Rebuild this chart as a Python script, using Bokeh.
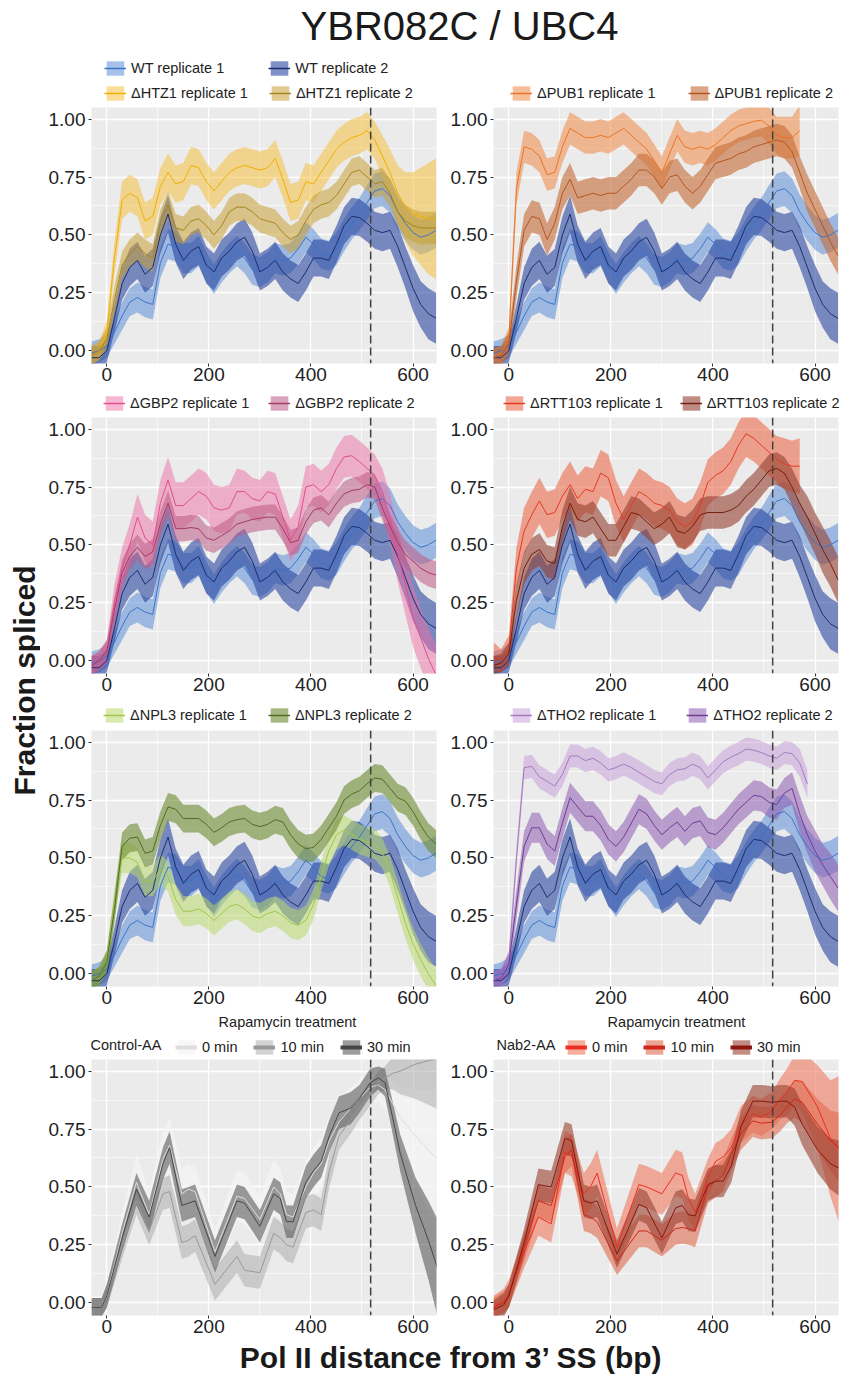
import numpy as np
from bokeh.plotting import figure
from bokeh.layouts import column, row
from bokeh.models import (Range1d, FixedTicker, NumeralTickFormatter, Legend,
                          LegendItem, Span, Label)
from bokeh.embed import file_html
from bokeh.resources import INLINE

# ------------------------------------------------------------------ data
X = [-30, -15, 0, 15, 30, 45, 60, 75, 90, 105,
     120, 135, 150, 165, 180, 195, 210, 225, 240, 255,
     270, 285, 300, 315, 330, 345, 360, 375, 390, 405,
     420, 435, 450, 465, 480, 495, 510, 525, 540, 555,
     570, 585, 600, 615, 630, 645]

WT_REP1 = [-0.01, 0.00, 0.02, 0.08, 0.15, 0.21, 0.23, 0.21, 0.20, 0.38,
           0.46, 0.45, 0.40, 0.40, 0.43, 0.36, 0.31, 0.36, 0.40, 0.43,
           0.40, 0.35, 0.34, 0.36, 0.40, 0.39, 0.40, 0.44, 0.49, 0.46,
           0.42, 0.41, 0.44, 0.50, 0.55, 0.59, 0.64, 0.69, 0.70, 0.67,
           0.60, 0.55, 0.51, 0.49, 0.50, 0.52]
WT_REP1_HW = [0.05, 0.05, 0.05, 0.05, 0.06, 0.06, 0.065, 0.065, 0.065, 0.065,
              0.065, 0.065, 0.065, 0.065, 0.065, 0.065, 0.065, 0.065, 0.065, 0.065,
              0.065, 0.065, 0.065, 0.065, 0.065, 0.065, 0.065, 0.065, 0.065, 0.065,
              0.065, 0.065, 0.07, 0.07, 0.07, 0.07, 0.075, 0.075, 0.075, 0.075,
              0.075, 0.075, 0.075, 0.075, 0.075, 0.075]

WT_REP2 = [-0.03, -0.03, 0.00, 0.14, 0.29, 0.36, 0.39, 0.33, 0.36, 0.50,
           0.59, 0.46, 0.39, 0.43, 0.45, 0.37, 0.34, 0.40, 0.43, 0.47,
           0.49, 0.43, 0.34, 0.36, 0.39, 0.34, 0.31, 0.29, 0.34, 0.40,
           0.40, 0.39, 0.46, 0.54, 0.58, 0.575, 0.55, 0.52, 0.51, 0.52,
           0.45, 0.36, 0.27, 0.20, 0.16, 0.14]
WT_REP2_HW = [0.05, 0.05, 0.05, 0.06, 0.07, 0.08, 0.08, 0.08, 0.08, 0.08,
              0.08, 0.08, 0.08, 0.08, 0.08, 0.08, 0.08, 0.08, 0.08, 0.08,
              0.08, 0.08, 0.08, 0.08, 0.08, 0.08, 0.08, 0.08, 0.08, 0.08,
              0.08, 0.08, 0.08, 0.08, 0.08, 0.08, 0.08, 0.08, 0.08, 0.08,
              0.09, 0.09, 0.10, 0.10, 0.11, 0.11]

HTZ1_REP1 = [-0.02, 0.00, 0.08, 0.40, 0.65, 0.68, 0.66, 0.56, 0.58, 0.71,
             0.77, 0.72, 0.73, 0.80, 0.79, 0.73, 0.69, 0.73, 0.77, 0.79,
             0.80, 0.79, 0.78, 0.79, 0.83, 0.74, 0.64, 0.65, 0.73, 0.72,
             0.77, 0.82, 0.87, 0.90, 0.92, 0.93, 0.95, 0.91, 0.84, 0.77,
             0.68, 0.62, 0.59, 0.58, 0.57, 0.57]
HTZ1_REP1_HW = [0.04, 0.04, 0.05, 0.07, 0.08, 0.08, 0.08, 0.08, 0.08, 0.08,
                0.08, 0.08, 0.08, 0.08, 0.08, 0.08, 0.08, 0.08, 0.08, 0.08,
                0.08, 0.08, 0.08, 0.08, 0.08, 0.08, 0.08, 0.08, 0.08, 0.08,
                0.08, 0.08, 0.08, 0.08, 0.08, 0.08, 0.08, 0.08, 0.09, 0.10,
                0.12, 0.15, 0.18, 0.21, 0.24, 0.26]

HTZ1_REP2 = [-0.02, 0.00, 0.05, 0.22, 0.37, 0.42, 0.45, 0.42, 0.40, 0.55,
             0.63, 0.53, 0.52, 0.56, 0.57, 0.54, 0.50, 0.54, 0.60, 0.62,
             0.62, 0.60, 0.57, 0.56, 0.55, 0.51, 0.48, 0.50, 0.56, 0.61,
             0.63, 0.64, 0.67, 0.72, 0.77, 0.78, 0.75, 0.72, 0.73, 0.68,
             0.60, 0.56, 0.54, 0.53, 0.53, 0.53]
HTZ1_REP2_HW = [0.04, 0.04, 0.05, 0.06, 0.06, 0.06, 0.06, 0.06, 0.06, 0.06,
                0.06, 0.06, 0.06, 0.06, 0.06, 0.06, 0.06, 0.06, 0.06, 0.06,
                0.06, 0.06, 0.06, 0.06, 0.06, 0.06, 0.06, 0.06, 0.06, 0.06,
                0.06, 0.06, 0.06, 0.06, 0.06, 0.06, 0.06, 0.06, 0.06, 0.06,
                0.06, 0.07, 0.07, 0.07, 0.07, 0.07]

PUB1_REP1 = [-0.03, -0.02, 0.05, 0.70, 0.88, 0.87, 0.84, 0.76, 0.77, 0.88,
             0.96, 0.94, 0.92, 0.92, 0.93, 0.92, 0.94, 0.96, 0.93, 0.90,
             0.87, 0.82, 0.77, 0.85, 0.93, 0.88, 0.87, 0.88, 0.87, 0.89,
             0.92, 0.95, 0.97, 0.98, 0.99, 0.995, 0.97, 0.93, 0.92, 0.92,
             0.95, None, None, None, None, None]
PUB1_REP1_HW = [0.04, 0.04, 0.05, 0.07, 0.07, 0.07, 0.07, 0.07, 0.07, 0.07,
                0.07, 0.07, 0.07, 0.07, 0.07, 0.07, 0.07, 0.07, 0.07, 0.07,
                0.07, 0.07, 0.07, 0.07, 0.07, 0.07, 0.07, 0.07, 0.07, 0.07,
                0.07, 0.07, 0.07, 0.07, 0.07, 0.07, 0.08, 0.08, 0.09, 0.09,
                0.11, None, None, None, None, None]

PUB1_REP2 = [-0.03, -0.02, 0.03, 0.30, 0.52, 0.58, 0.57, 0.48, 0.55, 0.68,
             0.74, 0.66, 0.67, 0.68, 0.67, 0.68, 0.68, 0.71, 0.74, 0.78,
             0.78, 0.75, 0.70, 0.75, 0.76, 0.71, 0.68, 0.71, 0.76, 0.81,
             0.82, 0.83, 0.85, 0.86, 0.88, 0.89, 0.90, 0.91, 0.90, 0.86,
             0.77, 0.68, 0.61, 0.54, 0.47, 0.41]
PUB1_REP2_HW = [0.04, 0.04, 0.05, 0.07, 0.07, 0.07, 0.07, 0.07, 0.07, 0.07,
                0.07, 0.07, 0.07, 0.07, 0.07, 0.07, 0.07, 0.07, 0.07, 0.07,
                0.07, 0.07, 0.07, 0.07, 0.07, 0.07, 0.07, 0.07, 0.07, 0.07,
                0.07, 0.07, 0.07, 0.07, 0.07, 0.07, 0.07, 0.07, 0.07, 0.07,
                0.07, 0.08, 0.08, 0.08, 0.08, 0.08]

GBP2_REP1 = [-0.02, 0.00, 0.04, 0.25, 0.40, 0.50, 0.62, 0.53, 0.50, 0.68,
             0.78, 0.67, 0.67, 0.70, 0.73, 0.71, 0.66, 0.65, 0.66, 0.73,
             0.73, 0.70, 0.69, 0.73, 0.72, 0.62, 0.52, 0.58, 0.75, 0.76,
             0.73, 0.76, 0.83, 0.88, 0.885, 0.86, 0.83, 0.80, 0.73, 0.61,
             0.46, 0.33, 0.19, 0.10, 0.01, -0.06]
GBP2_REP1_HW = [0.04, 0.04, 0.05, 0.08, 0.09, 0.09, 0.10, 0.10, 0.10, 0.10,
                0.10, 0.10, 0.10, 0.10, 0.10, 0.10, 0.10, 0.10, 0.10, 0.10,
                0.09, 0.09, 0.09, 0.09, 0.09, 0.09, 0.09, 0.09, 0.09, 0.09,
                0.09, 0.09, 0.09, 0.09, 0.09, 0.09, 0.09, 0.09, 0.10, 0.11,
                0.12, 0.13, 0.13, 0.13, 0.13, 0.13]

GBP2_REP2 = [-0.02, 0.00, 0.04, 0.22, 0.38, 0.45, 0.49, 0.45, 0.47, 0.59,
             0.68, 0.57, 0.57, 0.575, 0.57, 0.53, 0.52, 0.54, 0.56, 0.59,
             0.60, 0.61, 0.615, 0.62, 0.62, 0.57, 0.51, 0.52, 0.60, 0.65,
             0.66, 0.63, 0.68, 0.72, 0.735, 0.74, 0.76, 0.75, 0.66, 0.58,
             0.51, 0.46, 0.43, 0.40, 0.38, 0.37]
GBP2_REP2_HW = [0.04, 0.04, 0.05, 0.055, 0.055, 0.055, 0.055, 0.055, 0.055, 0.055,
                0.055, 0.055, 0.055, 0.055, 0.055, 0.055, 0.055, 0.055, 0.055, 0.055,
                0.055, 0.055, 0.055, 0.055, 0.055, 0.055, 0.055, 0.055, 0.055, 0.055,
                0.055, 0.055, 0.055, 0.055, 0.055, 0.055, 0.055, 0.055, 0.055, 0.055,
                0.06, 0.06, 0.06, 0.06, 0.06, 0.06]

RTT103_REP1 = [0.02, 0.00, 0.05, 0.40, 0.56, 0.63, 0.69, 0.63, 0.64, 0.71,
               0.76, 0.70, 0.74, 0.73, 0.81, 0.79, 0.68, 0.61, 0.67, 0.73,
               0.71, 0.68, 0.67, 0.65, 0.60, 0.58, 0.60, 0.67, 0.77, 0.80,
               0.82, 0.86, 0.93, 0.98, 0.96, 0.93, 0.90, 0.87, 0.85, 0.84,
               0.84, None, None, None, None, None]
RTT103_REP1_HW = [0.06, 0.05, 0.06, 0.09, 0.10, 0.10, 0.10, 0.10, 0.10, 0.10,
                  0.10, 0.10, 0.10, 0.10, 0.10, 0.10, 0.10, 0.10, 0.10, 0.10,
                  0.10, 0.10, 0.10, 0.10, 0.10, 0.10, 0.10, 0.10, 0.10, 0.10,
                  0.10, 0.10, 0.10, 0.10, 0.10, 0.10, 0.10, 0.10, 0.11, 0.11,
                  0.12, None, None, None, None, None]

RTT103_REP2 = [-0.02, -0.01, 0.03, 0.26, 0.40, 0.46, 0.48, 0.43, 0.42, 0.58,
               0.68, 0.61, 0.60, 0.62, 0.57, 0.52, 0.52, 0.58, 0.64, 0.63,
               0.60, 0.57, 0.59, 0.62, 0.56, 0.55, 0.58, 0.63, 0.64, 0.64,
               0.64, 0.65, 0.67, 0.71, 0.74, 0.78, 0.82, 0.83, 0.81, 0.75,
               0.68, 0.62, 0.55, 0.48, 0.42, 0.35]
RTT103_REP2_HW = [0.04, 0.04, 0.05, 0.07, 0.07, 0.07, 0.07, 0.07, 0.07, 0.07,
                  0.07, 0.07, 0.07, 0.07, 0.07, 0.07, 0.07, 0.07, 0.07, 0.07,
                  0.07, 0.07, 0.07, 0.07, 0.07, 0.07, 0.07, 0.07, 0.07, 0.07,
                  0.07, 0.07, 0.07, 0.07, 0.07, 0.07, 0.07, 0.07, 0.07, 0.08,
                  0.08, 0.09, 0.09, 0.10, 0.10, 0.10]

NPL3_REP1 = [-0.03, -0.01, 0.05, 0.30, 0.50, 0.50, 0.48, 0.40, 0.40, 0.45,
             0.42, 0.32, 0.27, 0.27, 0.28, 0.26, 0.23, 0.26, 0.29, 0.30,
             0.28, 0.25, 0.24, 0.26, 0.27, 0.25, 0.22, 0.21, 0.23, 0.30,
             0.42, 0.53, 0.60, 0.62, 0.60, 0.58, 0.57, 0.56, 0.52, 0.44,
             0.33, 0.22, 0.13, 0.06, 0.00, -0.05]
NPL3_REP1_HW = [0.04, 0.04, 0.05, 0.065, 0.065, 0.065, 0.065, 0.065, 0.065, 0.065,
                0.065, 0.065, 0.065, 0.065, 0.065, 0.065, 0.065, 0.065, 0.065, 0.065,
                0.065, 0.065, 0.065, 0.065, 0.065, 0.065, 0.065, 0.065, 0.065, 0.065,
                0.065, 0.065, 0.065, 0.065, 0.065, 0.065, 0.065, 0.065, 0.065, 0.065,
                0.07, 0.07, 0.07, 0.07, 0.07, 0.07]

NPL3_REP2 = [-0.03, -0.01, 0.05, 0.28, 0.55, 0.585, 0.59, 0.52, 0.53, 0.64,
             0.72, 0.71, 0.67, 0.67, 0.67, 0.645, 0.61, 0.63, 0.655, 0.665,
             0.67, 0.645, 0.635, 0.645, 0.665, 0.655, 0.60, 0.56, 0.54, 0.545,
             0.58, 0.63, 0.68, 0.75, 0.775, 0.79, 0.82, 0.845, 0.84, 0.80,
             0.76, 0.745, 0.70, 0.64, 0.59, 0.56]
NPL3_REP2_HW = [0.04, 0.04, 0.05, 0.06, 0.06, 0.06, 0.06, 0.06, 0.06, 0.06,
                0.06, 0.06, 0.06, 0.06, 0.06, 0.06, 0.06, 0.06, 0.06, 0.06,
                0.06, 0.06, 0.06, 0.06, 0.06, 0.06, 0.06, 0.06, 0.06, 0.06,
                0.06, 0.06, 0.06, 0.06, 0.06, 0.06, 0.06, 0.06, 0.06, 0.06,
                0.06, 0.06, 0.06, 0.06, 0.06, 0.06]

THO2_REP1 = [-0.03, -0.02, 0.05, 0.50, 0.89, 0.895, 0.85, 0.83, 0.81, 0.86,
             0.94, 0.94, 0.92, 0.93, 0.91, 0.88, 0.89, 0.905, 0.89, 0.87,
             0.85, 0.83, 0.82, 0.86, 0.88, 0.885, 0.905, 0.89, 0.845, 0.88,
             0.915, 0.935, 0.95, 0.97, 0.965, 0.955, 0.94, 0.93, 0.955, 0.95,
             0.91, 0.82, None, None, None, None]
THO2_REP1_HW = [0.04, 0.04, 0.05, 0.05, 0.05, 0.05, 0.05, 0.05, 0.05, 0.05,
                0.05, 0.05, 0.05, 0.05, 0.05, 0.05, 0.05, 0.05, 0.05, 0.05,
                0.05, 0.05, 0.05, 0.05, 0.05, 0.05, 0.05, 0.05, 0.05, 0.05,
                0.05, 0.05, 0.05, 0.05, 0.05, 0.05, 0.05, 0.05, 0.05, 0.05,
                0.06, 0.06, None, None, None, None]

THO2_REP2 = [-0.03, -0.02, 0.04, 0.30, 0.55, 0.63, 0.63, 0.56, 0.53, 0.65,
             0.76, 0.72, 0.68, 0.68, 0.64, 0.58, 0.55, 0.59, 0.65, 0.71,
             0.69, 0.64, 0.60, 0.63, 0.655, 0.615, 0.65, 0.66, 0.61, 0.60,
             0.63, 0.67, 0.71, 0.74, 0.77, 0.765, 0.74, 0.73, 0.78, 0.80,
             0.69, 0.60, 0.53, 0.47, 0.42, 0.37]
THO2_REP2_HW = [0.04, 0.04, 0.05, 0.065, 0.065, 0.065, 0.065, 0.065, 0.065, 0.065,
                0.065, 0.065, 0.065, 0.065, 0.065, 0.065, 0.065, 0.065, 0.065, 0.065,
                0.065, 0.065, 0.065, 0.065, 0.065, 0.065, 0.065, 0.065, 0.065, 0.065,
                0.065, 0.065, 0.065, 0.065, 0.065, 0.065, 0.065, 0.065, 0.065, 0.07,
                0.08, 0.08, 0.09, 0.09, 0.10, 0.10]

# anchor-away (rapamycin) experiments
X_AA = [-30, -10, 0, 30, 58, 83, 110, 123, 147, 160,
        173, 212, 255, 270, 300, 327, 340, 352, 365, 390,
        405, 420, 436, 455, 478, 495, 516, 532, 545, 560,
        575, 605, 630, 648]

CTRL_0 = [-0.02, -0.02, 0.03, 0.30, 0.52, 0.38, 0.62, 0.68, 0.47, 0.49,
          0.48, 0.22, 0.46, 0.45, 0.36, 0.50, 0.47, 0.38, 0.37, 0.50,
          0.56, 0.60, 0.70, 0.78, 0.84, 0.88, 0.93, 0.94, 0.92, 0.86,
          0.80, 0.72, 0.66, 0.62]
CTRL_0_HW = [0.05, 0.05, 0.06, 0.09, 0.12, 0.10, 0.12, 0.12, 0.11, 0.11,
             0.11, 0.10, 0.11, 0.11, 0.10, 0.12, 0.11, 0.10, 0.10, 0.11,
             0.11, 0.11, 0.11, 0.10, 0.09, 0.08, 0.07, 0.07, 0.08, 0.10,
             0.13, 0.20, 0.26, 0.30]
CTRL_10 = [-0.02, -0.02, 0.03, 0.25, 0.44, 0.31, 0.47, 0.48, 0.26, 0.27,
           0.29, 0.08, 0.20, 0.14, 0.13, 0.30, 0.28, 0.25, 0.24, 0.39,
           0.40, 0.38, 0.57, 0.72, 0.79, 0.84, 0.90, 0.95, 0.97, 0.99,
           1.00, 1.03, 1.045, 1.055]
CTRL_10_HW = [0.04, 0.04, 0.05, 0.06, 0.06, 0.06, 0.07, 0.07, 0.07, 0.07,
              0.07, 0.07, 0.07, 0.07, 0.07, 0.07, 0.07, 0.07, 0.07, 0.07,
              0.07, 0.07, 0.07, 0.06, 0.06, 0.05, 0.05, 0.05, 0.05, 0.07,
              0.10, 0.15, 0.19, 0.22]
CTRL_30 = [-0.02, -0.02, 0.03, 0.28, 0.49, 0.37, 0.60, 0.67, 0.42, 0.43,
           0.44, 0.20, 0.44, 0.43, 0.33, 0.47, 0.45, 0.35, 0.35, 0.52,
           0.57, 0.61, 0.72, 0.82, 0.84, 0.88, 0.95, 0.97, 0.95, 0.80,
           0.645, 0.42, 0.27, 0.15]
CTRL_30_HW = [0.04, 0.04, 0.05, 0.06, 0.07, 0.07, 0.07, 0.07, 0.07, 0.07,
              0.07, 0.07, 0.07, 0.07, 0.07, 0.07, 0.07, 0.07, 0.07, 0.07,
              0.07, 0.07, 0.07, 0.07, 0.07, 0.06, 0.06, 0.05, 0.06, 0.07,
              0.08, 0.12, 0.17, 0.21]

NAB2_0 = [-0.02, 0.01, 0.04, 0.22, 0.37, 0.34, 0.65, 0.635, 0.47, 0.50,
          0.56, 0.24, 0.51, 0.50, 0.47, 0.56, 0.55, 0.45, 0.39, 0.54,
          0.61, 0.63, 0.67, 0.77, 0.815, 0.80, 0.83, 0.88, 0.91, 0.96,
          0.955, 0.845, 0.71, 0.66]
NAB2_0_HW = [0.05, 0.05, 0.06, 0.07, 0.08, 0.08, 0.09, 0.09, 0.09, 0.10,
             0.10, 0.08, 0.09, 0.09, 0.09, 0.10, 0.10, 0.09, 0.08, 0.08,
             0.08, 0.08, 0.08, 0.08, 0.08, 0.08, 0.08, 0.09, 0.10, 0.11,
             0.13, 0.18, 0.25, 0.32]
NAB2_10 = [-0.02, 0.00, 0.03, 0.24, 0.44, 0.42, 0.63, 0.66, 0.38, 0.37,
           0.35, 0.18, 0.31, 0.31, 0.27, 0.32, 0.325, 0.32, 0.31, 0.50,
           0.525, 0.55, 0.64, 0.73, 0.785, 0.775, 0.78, 0.81, 0.845, 0.88,
           0.865, 0.77, 0.70, 0.67]
NAB2_10_HW = [0.04, 0.05, 0.05, 0.06, 0.07, 0.07, 0.07, 0.07, 0.07, 0.07,
              0.07, 0.06, 0.07, 0.07, 0.07, 0.07, 0.07, 0.07, 0.07, 0.07,
              0.07, 0.07, 0.07, 0.07, 0.07, 0.07, 0.07, 0.07, 0.07, 0.08,
              0.09, 0.11, 0.13, 0.15]
NAB2_30 = [-0.03, -0.01, 0.03, 0.26, 0.51, 0.50, 0.71, 0.70, 0.44, 0.43,
           0.44, 0.21, 0.425, 0.41, 0.28, 0.41, 0.42, 0.38, 0.375, 0.51,
           0.525, 0.525, 0.59, 0.76, 0.87, 0.87, 0.865, 0.87, 0.87, 0.845,
           0.77, 0.66, 0.60, 0.58]
NAB2_30_HW = [0.04, 0.05, 0.05, 0.06, 0.07, 0.07, 0.07, 0.07, 0.07, 0.07,
              0.07, 0.06, 0.07, 0.07, 0.07, 0.07, 0.07, 0.07, 0.07, 0.07,
              0.07, 0.07, 0.07, 0.07, 0.07, 0.07, 0.07, 0.07, 0.07, 0.08,
              0.09, 0.10, 0.11, 0.12]

SS_POSITION = 517          # dashed vertical marker (bp)
X_TICKS = [0, 200, 400, 600]
X_MINOR = [100, 300, 500]
Y_TICKS = [0, 0.25, 0.5, 0.75, 1.0]
Y_MINOR = [0.125, 0.375, 0.625, 0.875]

# ------------------------------------------------------------------ styles
FONT = "Liberation Sans"
BG = "#EBEBEB"
STYLE = {  # fill, fill alpha, line
    "WT1": ("#4F86D6", 0.50, "#3D74C7"),
    "WT2": ("#22409C", 0.58, "#1B2F6E"),
    "HTZ1_1": ("#F5BC2E", 0.50, "#F0B000"),
    "HTZ1_2": ("#C9A034", 0.55, "#A8841E"),
    "PUB1_1": ("#F08A45", 0.55, "#EA7426"),
    "PUB1_2": ("#C46A35", 0.60, "#B35520"),
    "GBP2_1": ("#EE6FA6", 0.50, "#E04E8E"),
    "GBP2_2": ("#BE5A86", 0.55, "#A33A6A"),
    "RTT_1": ("#EC6A4C", 0.60, "#E33B22"),
    "RTT_2": ("#954030", 0.60, "#74200F"),
    "NPL3_1": ("#B8D86A", 0.55, "#A3C64C"),
    "NPL3_2": ("#6C8A30", 0.60, "#506C22"),
    "THO2_1": ("#C39AD9", 0.50, "#A27BBF"),
    "THO2_2": ("#8E5BB0", 0.55, "#6F3D93"),
    "C0": ("#F4F4F4", 0.75, "#DDDDDD"),
    "C10": ("#A8A8A8", 0.50, "#999999"),
    "C30": ("#5A5A5A", 0.60, "#474747"),
    "N0": ("#F07A5E", 0.60, "#EE2E24"),
    "N10": ("#E06A50", 0.60, "#D0261C"),
    "N30": ("#9A4030", 0.60, "#8A1810"),
}

FRAME_W, FRAME_H, BOTTOM = 345, 256, 25
LEFT_W, RIGHT_W = 51 + FRAME_W + 5, 52 + FRAME_W + 7


def arr(v):
    return np.array([np.nan if a is None else a for a in v], dtype=float)


def blank(w, h):
    f = figure(width=w, height=h, x_range=Range1d(0, 1), y_range=Range1d(0, 1),
               output_backend="svg", toolbar_location=None, min_border=0,
               x_axis_location=None, y_axis_location=None)
    f.grid.grid_line_color = None
    f.outline_line_color = None
    f.background_fill_color = "white"
    f.border_fill_color = "white"
    return f


def draw_series(p, series):
    prepared = []
    for xs, mean, hw, key in series:
        x, m, h = np.asarray(xs, dtype=float), arr(mean), arr(hw)
        ok = np.isfinite(m) & np.isfinite(h)
        prepared.append((x[ok], m[ok], h[ok], key))
    for x, m, h, key in prepared:
        fill, alpha, _ = STYLE[key]
        p.varea(x=x, y1=m - h, y2=m + h, fill_color=fill, fill_alpha=alpha)
    for x, m, h, key in prepared:
        p.line(x=x, y=m, line_color=STYLE[key][2], line_width=1.0)


def add_legend(f, entries, loc, spacing, lw):
    items = []
    for label, key in entries:
        fill, alpha, line = STYLE[key]
        va = f.varea(x=np.array([np.nan]), y1=np.array([np.nan]), y2=np.array([np.nan]),
                     fill_color=fill, fill_alpha=alpha)
        ln = f.line(x=np.array([np.nan]), y=np.array([np.nan]), line_color=line,
                    line_width=lw)
        items.append(LegendItem(label=label, renderers=[va, ln]))
    leg = Legend(items=items, orientation="horizontal", location=loc,
                 glyph_width=22, glyph_height=18, label_standoff=5, spacing=spacing,
                 padding=3, margin=0, border_line_color=None,
                 background_fill_alpha=0.0,
                 label_text_font=FONT, label_text_font_size="14.5px",
                 label_text_color="#222222")
    f.add_layout(leg, "center")


def make_panel(left, legend_h, series, legends, group_label=None, treat_x=None):
    w = LEFT_W if left else RIGHT_W
    # legend strip above the panel
    lf = blank(w, legend_h)
    for entries, loc, spacing, lw in legends:
        add_legend(lf, entries, loc, spacing, lw)
    if group_label:
        lf.add_layout(Label(x=50 if left else 55, y=15, x_units="screen",
                            y_units="screen", text=group_label, text_font=FONT,
                            text_font_size="14.5px", text_color="#222222",
                            text_align="left", text_baseline="middle"))
        lf.add_layout(Label(x=treat_x, y=38, x_units="screen",
                            y_units="screen", text="Rapamycin treatment", text_font=FONT,
                            text_font_size="14.5px", text_color="#222222",
                            text_align="center", text_baseline="middle"))

    p = figure(width=w, height=FRAME_H + BOTTOM,
               x_range=Range1d(-30, 646), y_range=Range1d(-0.055, 1.05),
               output_backend="svg", toolbar_location=None)
    p.min_border_left = 51 if left else 52
    p.min_border_right = 5 if left else 7
    p.min_border_top = 0
    p.min_border_bottom = BOTTOM
    p.background_fill_color = BG
    p.border_fill_color = "white"
    p.outline_line_color = None
    for ax in (p.xaxis[0], p.yaxis[0]):
        ax.axis_line_color = None
        ax.major_tick_line_color = "#333333"
        ax.major_tick_out = 3
        ax.major_tick_in = 0
        ax.minor_tick_line_color = None
        ax.major_label_text_font = FONT
        ax.major_label_text_font_size = "19px"
        ax.major_label_text_color = "#222222"
        ax.major_label_standoff = 2
    p.xaxis[0].major_label_standoff = 0
    p.xaxis.ticker = FixedTicker(ticks=X_TICKS, minor_ticks=X_MINOR)
    p.yaxis.ticker = FixedTicker(ticks=Y_TICKS, minor_ticks=Y_MINOR)
    p.yaxis.formatter = NumeralTickFormatter(format="0.00")
    p.grid.grid_line_color = "white"
    p.grid.grid_line_width = 1.3
    p.grid.minor_grid_line_color = "white"
    p.grid.minor_grid_line_width = 0.6

    draw_series(p, series)
    p.add_layout(Span(location=SS_POSITION, dimension="height", line_color="#404040",
                      line_width=1.5, line_dash="8 4"))
    return lf, p


WT = [(X, WT_REP1, WT_REP1_HW, "WT1"), (X, WT_REP2, WT_REP2_HW, "WT2")]
D = "\u0394"

L1, p1 = make_panel(True, 57, WT + [(X, HTZ1_REP1, HTZ1_REP1_HW, "HTZ1_1"),
                                   (X, HTZ1_REP2, HTZ1_REP2_HW, "HTZ1_2")],
                    [([("WT replicate 1", "WT1"), ("WT replicate 2", "WT2")], (64, 30), 44, 1.5),
                     ([(D + "HTZ1 replicate 1", "HTZ1_1"), (D + "HTZ1 replicate 2", "HTZ1_2")],
                      (64, 5), 21, 1.5)])
L2, p2 = make_panel(False, 57, WT + [(X, PUB1_REP1, PUB1_REP1_HW, "PUB1_1"),
                                    (X, PUB1_REP2, PUB1_REP2_HW, "PUB1_2")],
                    [([(D + "PUB1 replicate 1", "PUB1_1"), (D + "PUB1 replicate 2", "PUB1_2")],
                      (69, 5), 32, 1.5)])
L3, p3 = make_panel(True, 29, WT + [(X, GBP2_REP1, GBP2_REP1_HW, "GBP2_1"),
                                   (X, GBP2_REP2, GBP2_REP2_HW, "GBP2_2")],
                    [([(D + "GBP2 replicate 1", "GBP2_1"), (D + "GBP2 replicate 2", "GBP2_2")],
                      (63, 5), 19, 1.5)])
L4, p4 = make_panel(False, 29, WT + [(X, RTT103_REP1, RTT103_REP1_HW, "RTT_1"),
                                    (X, RTT103_REP2, RTT103_REP2_HW, "RTT_2")],
                    [([(D + "RTT103 replicate 1", "RTT_1"), (D + "RTT103 replicate 2", "RTT_2")],
                      (62, 5), 17, 1.5)])
L5, p5 = make_panel(True, 32, WT + [(X, NPL3_REP1, NPL3_REP1_HW, "NPL3_1"),
                                   (X, NPL3_REP2, NPL3_REP2_HW, "NPL3_2")],
                    [([(D + "NPL3 replicate 1", "NPL3_1"), (D + "NPL3 replicate 2", "NPL3_2")],
                      (63, 6), 21, 1.5)])
L6, p6 = make_panel(False, 32, WT + [(X, THO2_REP1, THO2_REP1_HW, "THO2_1"),
                                    (X, THO2_REP2, THO2_REP2_HW, "THO2_2")],
                    [([(D + "THO2 replicate 1", "THO2_1"), (D + "THO2 replicate 2", "THO2_2")],
                      (69, 6), 30, 1.5)])
L7, p7 = make_panel(True, 48, [(X_AA, CTRL_0, CTRL_0_HW, "C0"),
                              (X_AA, CTRL_10, CTRL_10_HW, "C10"),
                              (X_AA, CTRL_30, CTRL_30_HW, "C30")],
                    [([("0 min", "C0"), ("10 min", "C10"), ("30 min", "C30")], (135, 3), 16, 4)],
                    group_label="Control-AA", treat_x=247)
L8, p8 = make_panel(False, 48, [(X_AA, NAB2_0, NAB2_0_HW, "N0"),
                               (X_AA, NAB2_10, NAB2_10_HW, "N10"),
                               (X_AA, NAB2_30, NAB2_30_HW, "N30")],
                    [([("0 min", "N0"), ("10 min", "N10"), ("30 min", "N30")], (124, 3), 16, 4)],
                    group_label="Nab2-AA", treat_x=235)

TITLE_H = 50
GRID_H = 57 + 29 + 32 + 48 + 4 * (FRAME_H + BOTTOM)
XLAB_H = 1378 - TITLE_H - GRID_H

title_fig = blank(845, TITLE_H)
title_fig.add_layout(Label(x=459, y=25, x_units="screen", y_units="screen",
                           text="YBR082C / UBC4", text_font=FONT, text_font_size="40px",
                           text_color="#1a1a1a", text_align="center", text_baseline="middle"))

ylab_fig = blank(40, GRID_H)
ylab_fig.add_layout(Label(x=24, y=GRID_H - (680 - TITLE_H), x_units="screen", y_units="screen",
                          text="Fraction spliced", angle=np.pi / 2, text_font=FONT,
                          text_font_size="30px", text_font_style="bold", text_color="#1a1a1a",
                          text_align="center", text_baseline="middle"))

xlab_fig = blank(845, XLAB_H)
xlab_fig.add_layout(Label(x=451, y=XLAB_H - 17, x_units="screen", y_units="screen",
                          text="Pol II distance from 3\u2019 SS (bp)", text_font=FONT,
                          text_font_size="30px", text_font_style="bold", text_color="#1a1a1a",
                          text_align="center", text_baseline="middle"))

grid = column(row(L1, L2), row(p1, p2), row(L3, L4), row(p3, p4),
              row(L5, L6), row(p5, p6), row(L7, L8), row(p7, p8))
layout = column(title_fig, row(ylab_fig, grid), xlab_fig)

open("out.html", "w").write(file_html(layout, INLINE, title="YBR082C / UBC4"))
